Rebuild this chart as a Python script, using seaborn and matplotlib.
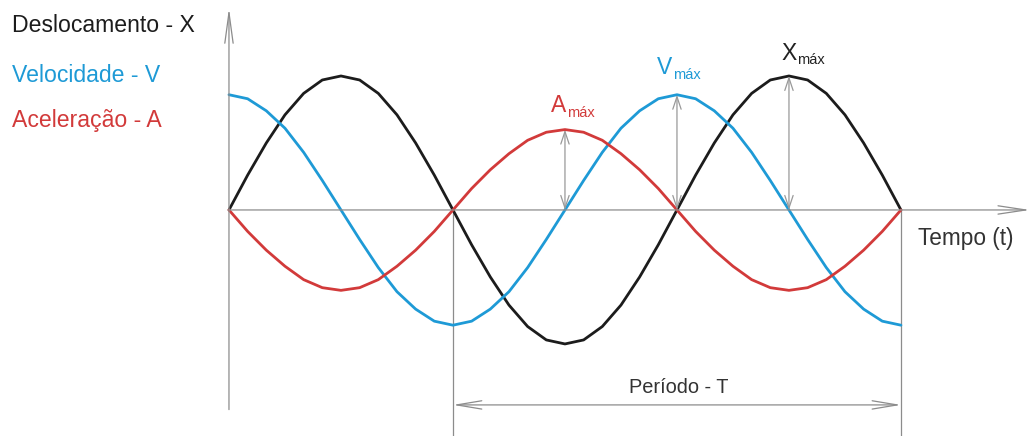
import numpy as np
import pandas as pd
import matplotlib.pyplot as plt
import seaborn as sns

# phase (degrees) and the three curves
fase = [0, 15, 30, 45, 60, 75, 90, 105, 120, 135, 150, 165, 180,
        195, 210, 225, 240, 255, 270, 285, 300, 315, 330, 345, 360,
        375, 390, 405, 420, 435, 450, 465, 480, 495, 510, 525, 540]
deslocamento = [0, .26, .50, .71, .87, .97, 1.00, .97, .87, .71, .50, .26, 0,
                -.26, -.50, -.71, -.87, -.97, -1.00, -.97, -.87, -.71, -.50, -.26, 0,
                .26, .50, .71, .87, .97, 1.00, .97, .87, .71, .50, .26, 0]
velocidade = [.86, .83, .74, .61, .43, .22, 0, -.22, -.43, -.61, -.74, -.83, -.86,
              -.83, -.74, -.61, -.43, -.22, 0, .22, .43, .61, .74, .83, .86,
              .83, .74, .61, .43, .22, 0, -.22, -.43, -.61, -.74, -.83, -.86]
aceleracao = [0, -.16, -.30, -.42, -.52, -.58, -.60, -.58, -.52, -.42, -.30, -.16, 0,
              .16, .30, .42, .52, .58, .60, .58, .52, .42, .30, .16, 0,
              -.16, -.30, -.42, -.52, -.58, -.60, -.58, -.52, -.42, -.30, -.16, 0]

nomes = ['Deslocamento - X', 'Velocidade - V', 'Aceleração - A']
cores = {'Deslocamento - X': '#1c1c1c', 'Velocidade - V': '#1e9ad6', 'Aceleração - A': '#d23a3a'}

df = pd.DataFrame({
    'fase': fase * 3,
    'valor': deslocamento + velocidade + aceleracao,
    'grandeza': [n for n in nomes for _ in fase],
})

sns.set_theme(style='white')
plt.rcParams['font.family'] = ['Liberation Sans', 'DejaVu Sans']

fig = plt.figure(figsize=(10.32, 4.36), dpi=100)
ax = fig.add_axes([0, 0, 1, 1])
ax.axis('off')
ax.set_xlim(-184.0, 645.3)
ax.set_ylim(-1.687, 1.567)

cinza = '#8c8c8c'

# axes drawn as arrows
ax.annotate('', xy=(643.7, 0), xytext=(0, 0),
            arrowprops=dict(arrowstyle='->,head_length=2.0,head_width=0.3', color=cinza,
                            lw=0.9, mutation_scale=10, shrinkA=0, shrinkB=0))
ax.annotate('', xy=(0, 1.507), xytext=(0, -1.49),
            arrowprops=dict(arrowstyle='->,head_length=2.2,head_width=0.3', color=cinza,
                            lw=0.9, mutation_scale=10, shrinkA=0, shrinkB=0))

# period markers
t0, t1 = fase[12], fase[36]
ax.vlines([t0, t1], -1.687, 0, color=cinza, lw=0.9)
ax.annotate('', xy=(t1, -1.455), xytext=(t0, -1.455),
            arrowprops=dict(arrowstyle='<->,head_length=1.8,head_width=0.3', color=cinza,
                            lw=0.9, mutation_scale=10, shrinkA=0, shrinkB=0))
fig.text(679 / 1032, 1 - 393 / 436, 'Período - T', fontsize=14.4, color='#333333',
         ha='center', va='baseline')

sns.lineplot(data=df, x='fase', y='valor', hue='grandeza', palette=cores,
             linewidth=2.0, legend=False, sort=False, ax=ax)

# peak arrows
for serie, ini in [(aceleracao, 13), (velocidade, 13), (deslocamento, 25)]:
    i = ini + int(np.argmax(serie[ini:ini + 12]))
    ax.annotate('', xy=(fase[i], serie[i]), xytext=(fase[i], 0),
                arrowprops=dict(arrowstyle='<->,head_length=0.9,head_width=0.3', color='#999999',
                                lw=0.9, mutation_scale=10, shrinkA=0, shrinkB=0))

# labels
for nome, base in zip(nomes, [32, 82, 127]):
    fig.text(12 / 1032, 1 - base / 436, nome, fontsize=16.6, color=cores[nome], va='baseline')

fig.text(918 / 1032, 1 - 245 / 436, 'Tempo (t)', fontsize=16.3, color='#333333', va='baseline')

for letra, cor, x0, b0, x1, b1 in [('A', cores['Aceleração - A'], 551, 112, 567, 117),
                                   ('V', cores['Velocidade - V'], 657, 74, 673, 79),
                                   ('X', '#222222', 781, 60, 797, 64)]:
    fig.text(x0 / 1032, 1 - b0 / 436, letra, fontsize=16.5, color=cor, va='baseline')
    fig.text(x1 / 1032, 1 - b1 / 436, 'máx', fontsize=10.5, color=cor, va='baseline')

fig.savefig('out.png', dpi=100)
